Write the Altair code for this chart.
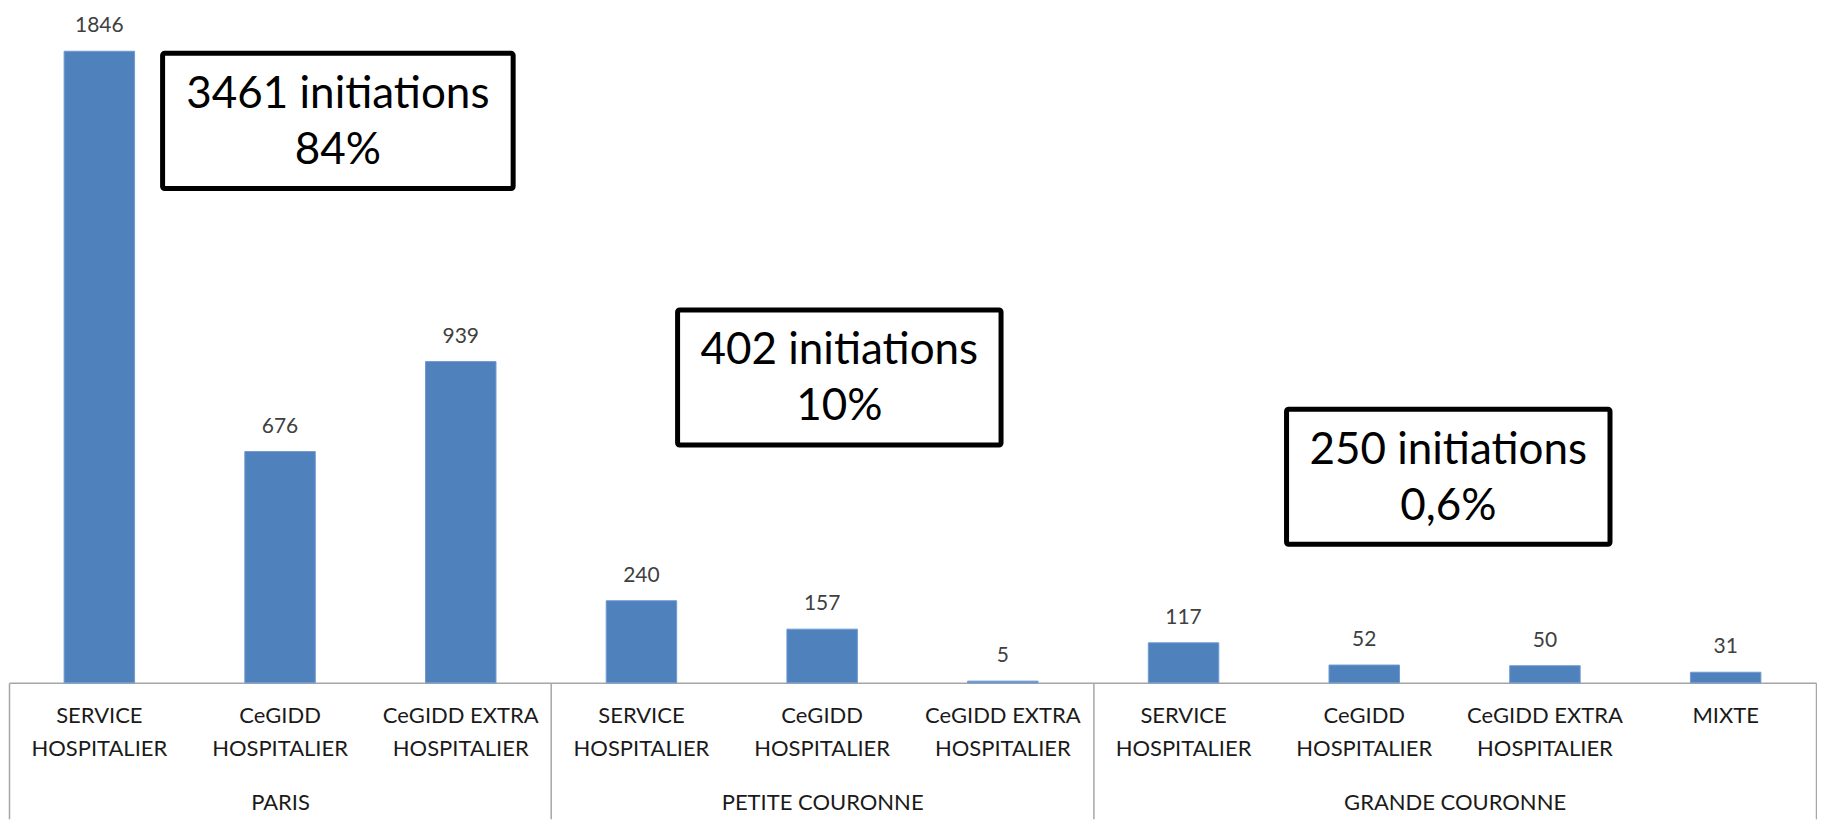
import altair as alt
import pandas as pd

# ---- data ----
groups = ["PARIS", "PARIS", "PARIS",
          "PETITE COURONNE", "PETITE COURONNE", "PETITE COURONNE",
          "GRANDE COURONNE", "GRANDE COURONNE", "GRANDE COURONNE", "GRANDE COURONNE"]
types = ["SERVICE\nHOSPITALIER", "CeGIDD\nHOSPITALIER", "CeGIDD EXTRA\nHOSPITALIER",
         "SERVICE\nHOSPITALIER", "CeGIDD\nHOSPITALIER", "CeGIDD EXTRA\nHOSPITALIER",
         "SERVICE\nHOSPITALIER", "CeGIDD\nHOSPITALIER", "CeGIDD EXTRA\nHOSPITALIER", "MIXTE"]
values = [1846, 676, 939, 240, 157, 5, 117, 52, 50, 31]

group_names = ["PARIS", "PETITE COURONNE", "GRANDE COURONNE"]
group_centers = [1.5, 4.5, 8.0]          # in slot units (10 slots)
group_edges = [0, 3, 6, 10]

box_texts = ["3461 initiations\n84%", "402 initiations\n10%", "250 initiations\n0,6%"]
box_x0 = [0.85, 3.70, 7.07]
box_x1 = [2.79, 5.49, 8.86]
box_y0 = [1445, 695, 405]
box_y1 = [1840, 1090, 800]

FONT = "Lato"
W, H = 1808, 672
YMAX = 1963
BLUE = "#4F81BD"
GREY = "#A6A6A6"

keys = [f"{g}|{t}" for g, t in zip(groups, types)]
bars_df = pd.DataFrame({"key": keys, "value": values})
box_df = pd.DataFrame({"x0": box_x0, "x1": box_x1, "y0": box_y0, "y1": box_y1,
                       "xc": [(a + b) / 2 for a, b in zip(box_x0, box_x1)],
                       "yc": [(a + b) / 2 for a, b in zip(box_y0, box_y1)],
                       "text": box_texts})
grp_df = pd.DataFrame({"c": group_centers, "name": group_names})

yscale = alt.Scale(domain=[0, YMAX], nice=False, zero=True)

xband = alt.X("key:N", sort=keys,
              scale=alt.Scale(paddingInner=0.61, paddingOuter=0.305),
              axis=alt.Axis(title=None, orient="bottom", domain=False, ticks=False,
                            labelAngle=0, labelLimit=0, labelPadding=23,
                            labelFont=FONT, labelFontSize=22, labelLineHeight=33,
                            labelColor="#1a1a1a",
                            labelExpr="split(split(datum.value, '|')[1], '\\n')"))

bars = alt.Chart(bars_df).mark_bar(color=BLUE, stroke="#6f9bd1", strokeWidth=1).encode(
    x=xband,
    y=alt.Y("value:Q", scale=yscale, axis=None),
)
bar_text = alt.Chart(bars_df).mark_text(font=FONT, fontSize=21, color="#404040",
                                        baseline="alphabetic", dy=-19).encode(
    x=alt.X("key:N", sort=keys),
    y=alt.Y("value:Q", scale=yscale),
    text=alt.Text("value:Q"),
)
bar_layer = alt.layer(bars, bar_text)

uscale = alt.Scale(domain=[0, 10], nice=False, zero=False)
boxes = alt.Chart(box_df).mark_rect(fill="white", stroke="black", strokeWidth=5,
                                    cornerRadius=2).encode(
    x=alt.X("x0:Q", scale=uscale,
            axis=alt.Axis(title=None, orient="bottom", values=group_edges, labels=False,
                          ticks=True, tickSize=136, tickColor=GREY, tickWidth=1.5,
                          domain=True, domainColor=GREY, domainWidth=1.5, grid=False)),
    x2="x1:Q",
    y=alt.Y("y0:Q", scale=yscale, axis=None),
    y2="y1:Q",
)
box_text = alt.Chart(box_df).mark_text(font=FONT, fontSize=44, lineHeight=56,
                                       lineBreak="\n", color="black", dy=-26,
                                       baseline="middle", align="center").encode(
    x=alt.X("xc:Q", scale=uscale),
    y=alt.Y("yc:Q", scale=yscale),
    text="text:N",
)
box_layer = alt.layer(boxes, box_text)

grp_layer = alt.Chart(grp_df).mark_point(opacity=0).encode(
    x=alt.X("c:Q", scale=uscale,
            axis=alt.Axis(title=None, orient="bottom", values=group_centers,
                          ticks=False, domain=False, grid=False, labelPadding=110,
                          labelFont=FONT, labelFontSize=22, labelColor="#1a1a1a",
                          labelLimit=0,
                          labelExpr="datum.value == 1.5 ? 'PARIS' : datum.value == 4.5 ? 'PETITE COURONNE' : 'GRANDE COURONNE'")),
    y=alt.value(0),
)

chart = alt.layer(bar_layer, box_layer, grp_layer).resolve_scale(
    x="independent"
).resolve_axis(x="independent").properties(
    width=W, height=H, padding=0
).configure_view(stroke=None)

chart.save("out.html", embed_options={"renderer": "svg", "actions": False})
